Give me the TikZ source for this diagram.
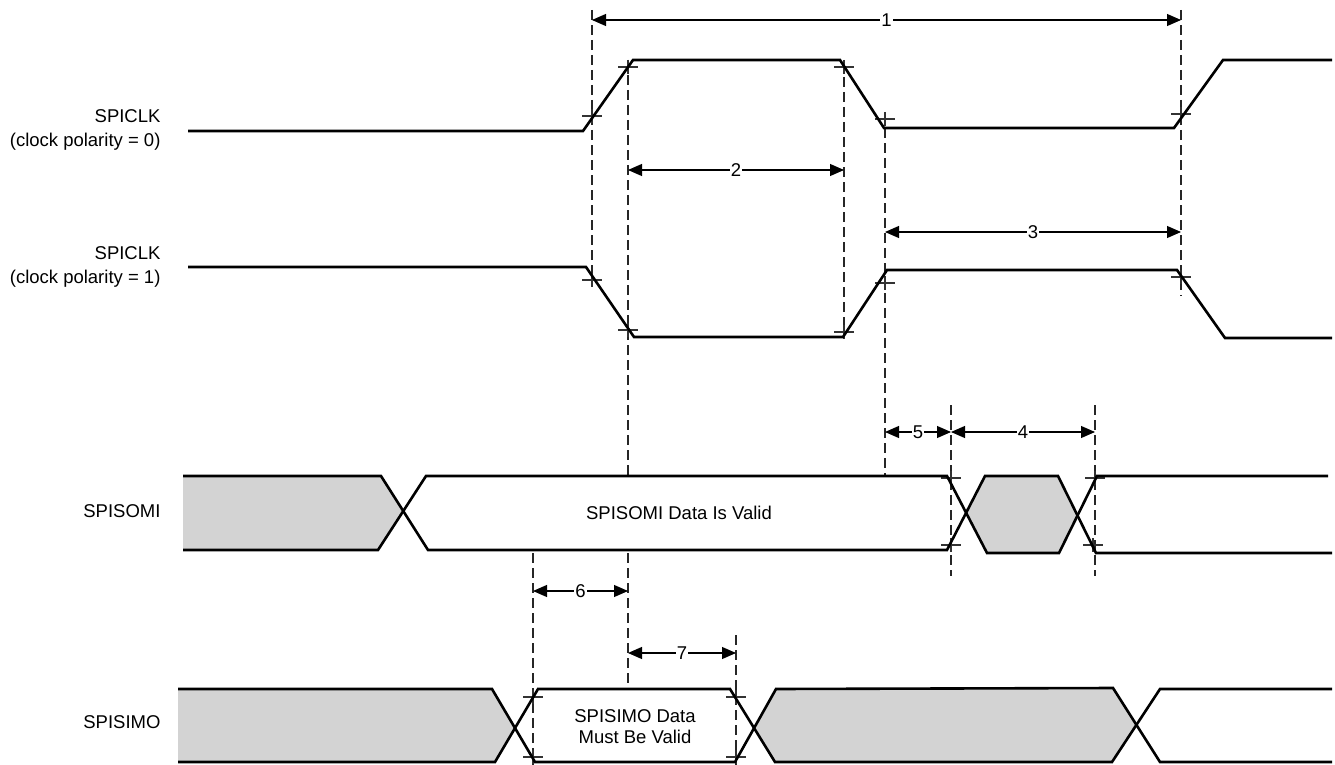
\documentclass[tikz,border=0pt]{standalone}
\usepackage{fontspec}
\setmainfont{Liberation Sans}
\usetikzlibrary{arrows.meta}
\definecolor{waveGray}{RGB}{211,211,211}
\tikzset{
  sig/.style={line width=2.6pt, black, line join=miter},
  grayfill/.style={fill=waveGray, draw=none},
  guide/.style={line width=1.2pt, black!85, dash pattern=on 10pt off 5pt},
  tickmark/.style={line width=1.2pt, black!80},
  dimline/.style={line width=1.1pt, black, {Triangle[length=14pt,width=12pt]}-{Triangle[length=14pt,width=12pt]}},
  dimlbl/.style={fill=white, inner sep=1pt, font=\fontsize{18.5}{22}\selectfont},
  signame/.style={anchor=east, align=right, font=\fontsize{18.5}{24.5}\selectfont},
  boxtext/.style={align=center, font=\fontsize{18.5}{21}\selectfont},
}
\newcommand{\plusmark}[2]{\draw[tickmark] (#1-10,#2) -- (#1+10,#2) (#1,#2-7) -- (#1,#2+7);}
\begin{document}
\begin{tikzpicture}[x=1pt,y=-1pt]
\useasboundingbox (0,0) rectangle (1335,765);

% ---- gray fills ----
\fill[grayfill] (183,476) -- (381,476) -- (403,513) -- (378,550) -- (183,550) -- cycle;
\fill[grayfill] (966,513) -- (985,476) -- (1058,476) -- (1077,515) -- (1059,553) -- (987,553) -- cycle;
\fill[grayfill] (178,689) -- (492,689) -- (515,726) -- (495,762) -- (178,762) -- cycle;
\fill[grayfill] (754,726) -- (776,689) -- (1113,688) -- (1136,726) -- (1112,762) -- (775,762) -- cycle;

% ---- dashed guide lines ----
\draw[guide] (592,10) -- (592,286);
\draw[guide] (628,60) -- (628,475);
\draw[guide] (628,553) -- (628,688);
\draw[guide] (844,62) -- (844,334);
\draw[guide] (885,113) -- (885,475);
\draw[guide] (1181,10) -- (1181,296);
\draw[guide] (951,405) -- (951,576);
\draw[guide] (1095,405) -- (1095,576);
\draw[guide] (533,553) -- (533,765);
\draw[guide] (736,635) -- (736,765);

% ---- tick marks ----
\plusmark{592}{116}\plusmark{628}{67}\plusmark{844}{67}\plusmark{885}{119}\plusmark{1181}{114}
\plusmark{592}{280}\plusmark{628}{330}\plusmark{844}{332}\plusmark{885}{283}\plusmark{1181}{277}
\plusmark{951}{478}\plusmark{951}{545}\plusmark{1095}{478}\plusmark{1093}{545}
\plusmark{533}{697}\plusmark{533}{757}\plusmark{736}{697}\plusmark{736}{757}

% ---- signals ----
\draw[sig] (188,131) -- (583,131) -- (633,60) -- (840,60) -- (884,128) -- (1174,128) -- (1223,60) -- (1332,60);
\draw[sig] (188,267) -- (586,267) -- (634,337) -- (843,337) -- (887,270) -- (1177,270) -- (1225,338) -- (1332,338);
\draw[sig] (183,476) -- (381,476) -- (428,550) -- (947,550) -- (985,476) -- (1058,476) -- (1096,553) -- (1332,553);
\draw[sig] (183,550) -- (378,550) -- (426,476) -- (947,476) -- (987,553) -- (1059,553) -- (1097,476) -- (1328,476);
\draw[sig] (178,689) -- (492,689) -- (535,762) -- (735,762) -- (776,689) -- (1113,688) -- (1160,762) -- (1332,762);
\draw[sig] (178,762) -- (495,762) -- (538,689) -- (730,689) -- (775,762) -- (1112,762) -- (1160,689) -- (1332,689);

% ---- signal names ----
\node[signame] (lclk0) at (164,130) {SPICLK\\(clock polarity = 0)};
\node[signame] (lclk1) at (164,267) {SPICLK\\(clock polarity = 1)};
\node[signame] (lsomi) at (164,511) {SPISOMI};
\node[signame] (lsimo) at (164,722) {SPISIMO};
\node[boxtext] (tsomi) at (679,513) {SPISOMI Data Is Valid};
\node[boxtext] (tsimo) at (635,727) {SPISIMO Data\\Must Be Valid};

% ---- dimension arrows ----
\coordinate (d1a) at (592,20);   \coordinate (d1b) at (1181,20);
\coordinate (d2a) at (628,170);  \coordinate (d2b) at (844,170);
\coordinate (d3a) at (885,232);  \coordinate (d3b) at (1181,232);
\coordinate (d5a) at (885,432);  \coordinate (d5b) at (951,432);
\coordinate (d4a) at (951,432);  \coordinate (d4b) at (1095,432);
\coordinate (d6a) at (533,591);  \coordinate (d6b) at (628,591);
\coordinate (d7a) at (628,653);  \coordinate (d7b) at (736,653);
\draw[dimline] (d1a) -- node[dimlbl] (n1) {1} (d1b);
\draw[dimline] (d2a) -- node[dimlbl] (n2) {2} (d2b);
\draw[dimline] (d3a) -- node[dimlbl] (n3) {3} (d3b);
\draw[dimline] (d5a) -- node[dimlbl] (n5) {5} (d5b);
\draw[dimline] (d4a) -- node[dimlbl] (n4) {4} (d4b);
\draw[dimline] (d6a) -- node[dimlbl] (n6) {6} (d6b);
\draw[dimline] (d7a) -- node[dimlbl] (n7) {7} (d7b);
\end{tikzpicture}
\end{document}
